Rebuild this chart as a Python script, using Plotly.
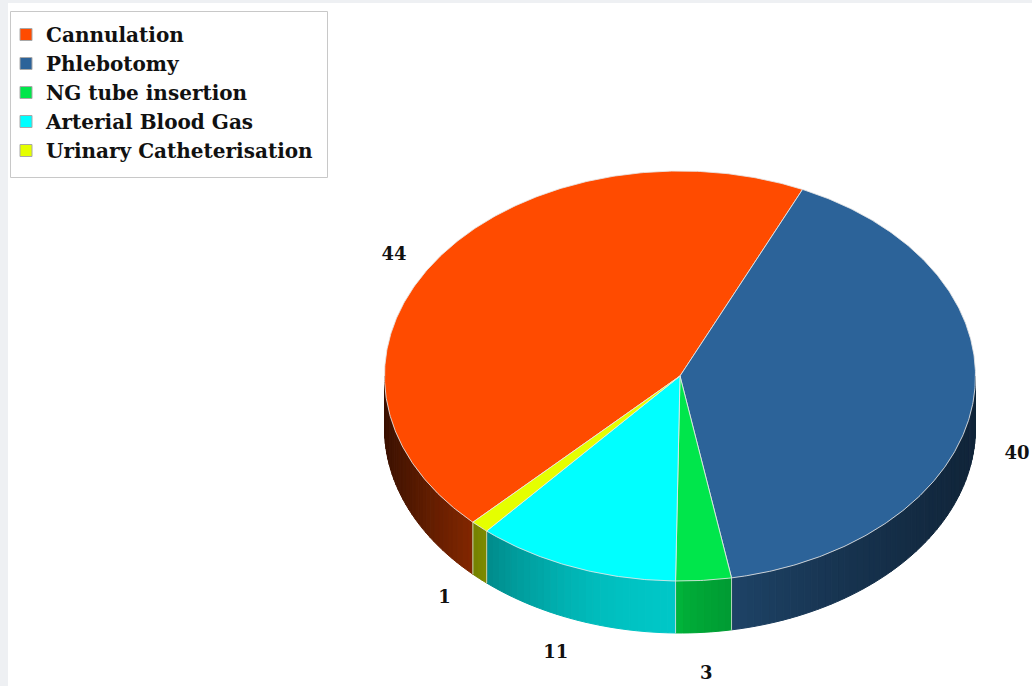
import numpy as np
import plotly.graph_objects as go

# ---- data ----
categories = ["Cannulation", "Phlebotomy", "NG tube insertion",
              "Arterial Blood Gas", "Urinary Catheterisation"]
values = [44, 40, 3, 11, 1]
colors = ["#FF4B00", "#2C6399", "#00E64B", "#00FFFF", "#E5FF00"]

# ---- geometry (pixel space) ----
W, H = 1032, 686
CX, CY, RX, RY, DEPTH = 680.0, 376.0, 295.5, 205.0, 52.0
FIRST_ANGLE = 224.5          # clockwise from top, first slice start
STRIP = 1.5                  # degrees per side strip
FONT = "DejaVu Serif"


def pt(theta, dy=0.0):
    t = np.radians(theta)
    return CX + RX * np.sin(t), CY - RY * np.cos(t) + dy


def hex2rgb(h):
    h = h.lstrip("#")
    return tuple(int(h[i:i + 2], 16) for i in (0, 2, 4))


def shade(hexcol, b):
    r, g, bl = hex2rgb(hexcol)
    return "rgb(%d,%d,%d)" % (round(r * b), round(g * b), round(bl * b))


def brightness(u):
    if u < 0:
        return 0.78 - 0.55 * u * u
    return 0.77 - 0.40 * (u ** 0.8)


total = float(sum(values))
spans = [v / total * 360.0 for v in values]
starts = []
a = FIRST_ANGLE
for s in spans:
    starts.append(a)
    a += s

fig = go.Figure()

# ---- side walls (front half only) ----
for i, (a0, s) in enumerate(zip(starts, spans)):
    a1 = a0 + s
    for w0, w1 in ((90, 270), (450, 630)):
        lo, hi = max(a0, w0), min(a1, w1)
        if hi <= lo:
            continue
        n = int(np.ceil((hi - lo) / STRIP))
        edges = np.linspace(lo, hi, n + 1)
        for k in range(n):
            t1, t2 = edges[k], edges[k + 1]
            ts = np.linspace(t1, t2, 4)
            xs_top, ys_top = pt(ts)
            xs_bot, ys_bot = pt(ts[::-1], DEPTH)
            xs = np.concatenate([xs_top, xs_bot, xs_top[:1]])
            ys = np.concatenate([ys_top, ys_bot, ys_top[:1]])
            u = np.sin(np.radians((t1 + t2) / 2))
            col = shade(colors[i], brightness(u))
            fig.add_trace(go.Scatter(
                x=xs, y=ys, mode="lines", fill="toself", fillcolor=col,
                line=dict(color=col, width=1), hoverinfo="skip",
                showlegend=False))

# slice boundary lines on side
for a0 in starts:
    b = a0 % 360
    if 90 < b < 270:
        x0, y0 = pt(b)
        x1, y1 = pt(b, DEPTH)
        fig.add_trace(go.Scatter(
            x=[x0, x1], y=[y0, y1], mode="lines",
            line=dict(color="rgba(225,225,225,0.8)", width=1),
            hoverinfo="skip", showlegend=False))

# ---- top faces ----
for i, (a0, s) in enumerate(zip(starts, spans)):
    ts = np.linspace(a0, a0 + s, max(int(s * 2), 4))
    xs, ys = pt(ts)
    xs = np.concatenate([[CX], xs, [CX]])
    ys = np.concatenate([[CY], ys, [CY]])
    fig.add_trace(go.Scatter(
        x=xs, y=ys, mode="lines", fill="toself", fillcolor=colors[i],
        line=dict(color="rgba(230,230,230,0.85)", width=1),
        hoverinfo="text", text=f"{categories[i]}: {values[i]}",
        showlegend=False))

# ---- data labels (outside end, placed from each slice's mid angle) ----
mids = np.radians([a0 + s / 2 for a0, s in zip(starts, spans)])
lx = np.minimum(CX - 1.3 + 1.169 * RX * np.sin(mids), W - 15)
ly = CY + 36.0 - 1.279 * RY * np.cos(mids) + 9.3 * np.sin(mids)
fig.add_trace(go.Scatter(
    x=lx, y=ly, mode="text", text=[str(v) for v in values],
    textfont=dict(family=FONT, size=18, color="#111111", weight="bold"),
    cliponaxis=False, hoverinfo="skip", showlegend=False))

# ---- legend entries ----
for cat, col in zip(categories, colors):
    fig.add_trace(go.Scatter(
        x=[None], y=[None], mode="markers", name=cat,
        marker=dict(symbol="square", size=12, color=col,
                    line=dict(color="#a8a8a8", width=1)),
        showlegend=True))

fig.update_layout(
    width=W, height=H,
    margin=dict(l=0, r=0, t=0, b=0),
    paper_bgcolor="white", plot_bgcolor="white",
    xaxis=dict(range=[0, W], visible=False, fixedrange=True),
    yaxis=dict(range=[H, 0], visible=False, fixedrange=True),
    showlegend=True,
    legend=dict(
        x=6 / W, y=1 - 15 / H, xanchor="left", yanchor="top",
        bgcolor="rgba(0,0,0,0)", borderwidth=0,
        font=dict(family=FONT, size=20, color="#111111", weight="bold"),
        itemsizing="trace", traceorder="normal"),
    shapes=[
        dict(type="rect", xref="paper", yref="paper", x0=0, x1=1,
             y0=1 - 3 / H, y1=1, fillcolor="#eef0f3", line_width=0,
             layer="below"),
        dict(type="rect", xref="paper", yref="paper", x0=0, x1=8 / W,
             y0=0, y1=1, fillcolor="#eef0f3", line_width=0, layer="below"),
        dict(type="rect", xref="x", yref="y", x0=10.5, x1=327.5,
             y0=11.5, y1=177.5, fillcolor="white",
             line=dict(color="#c8c8c8", width=1), layer="below"),
    ],
)

fig.write_html("out.html")
